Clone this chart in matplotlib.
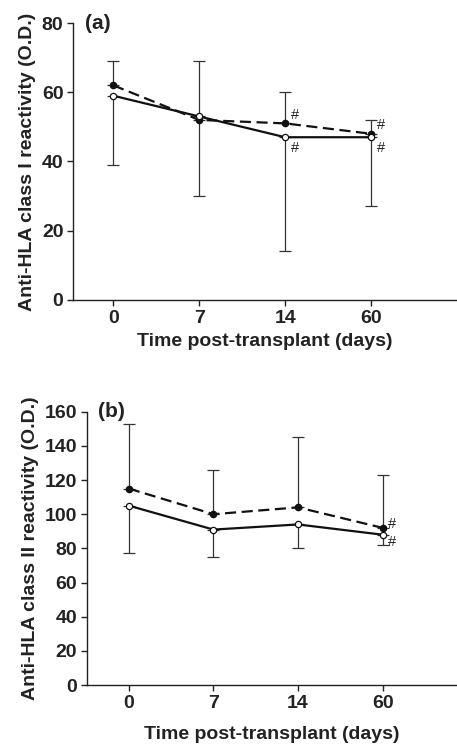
import matplotlib
matplotlib.use("Agg")
import matplotlib.pyplot as plt

plt.rcParams['font.family'] = ['Liberation Sans', 'DejaVu Sans']

days = ["0", "7", "14", "60"]

# Panel (a): class I
a_filled = [62, 52, 51, 48]
a_filled_upper = [69, 69, 60, 52]
a_open = [59, 53, 47, 47]
a_open_lower = [39, 30, 14, 27]
a_hash_filled = [2, 3]
a_hash_open = [2, 3]

# Panel (b): class II
b_filled = [115, 100, 104, 92]
b_filled_upper = [153, 126, 145, 123]
b_open = [105, 91, 94, 88]
b_open_lower = [77, 75, 80, 82]
b_hash_filled = [3]
b_hash_open = [3]

fig = plt.figure(figsize=(4.57, 7.44), dpi=100)

FS = 14

def panel(rect, filled, fup, opn, olow, hf, ho, ylim, yticks, ylabel, tag, xlim, hoff, xpad):
    ax = fig.add_axes(rect)
    x = list(range(len(days)))
    ax.errorbar(x, filled, yerr=[[0]*len(filled), [u - f for u, f in zip(fup, filled)]],
                fmt='none', ecolor='#333333', elinewidth=0.9, capsize=4, capthick=0.9, zorder=2)
    ax.errorbar(x, opn, yerr=[[o - l for o, l in zip(opn, olow)], [0]*len(opn)],
                fmt='none', ecolor='#333333', elinewidth=0.9, capsize=4, capthick=0.9, zorder=2)
    ax.plot(x, filled, color='#111111', lw=1.6, ls=(0, (5, 2.5)), marker='o', ms=4.5,
            mfc='#111111', mec='#111111', zorder=3)
    ax.plot(x, opn, color='#111111', lw=1.6, ls='-', marker='o', ms=4.5,
            mfc='white', mec='#111111', mew=0.9, zorder=4)
    for i in hf:
        ax.annotate('#', (x[i], filled[i]), xytext=(7, hoff[0]), textcoords='offset points',
                    ha='center', va='center', fontsize=10.5, color='#222222')
    for i in ho:
        ax.annotate('#', (x[i], opn[i]), xytext=(7, hoff[1]), textcoords='offset points',
                    ha='center', va='center', fontsize=10.5, color='#222222')
    ax.set_xlim(*xlim)
    ax.set_ylim(*ylim)
    ax.set_yticks(yticks)
    ax.set_xticks(x)
    ax.set_xticklabels(days)
    for s in ['top', 'right']:
        ax.spines[s].set_visible(False)
    for s in ['left', 'bottom']:
        ax.spines[s].set_linewidth(1.0)
        ax.spines[s].set_color('#222222')
    ax.tick_params(axis='both', direction='out', length=4, width=1.0, labelsize=FS,
                   colors='#222222', pad=3)
    for lab in ax.get_xticklabels() + ax.get_yticklabels():
        lab.set_fontweight('bold')
    ax.set_ylabel(ylabel, fontsize=FS, fontweight='bold', color='#222222', labelpad=4)
    ax.set_xlabel('Time post-transplant (days)', fontsize=FS, fontweight='bold',
                  color='#222222', labelpad=xpad)
    ax.text(0.03, 1.0, tag, transform=ax.transAxes, fontsize=FS + 1, fontweight='bold',
            va='center', ha='left', color='#222222')
    return ax

panel([0.160, 0.597, 0.840, 0.372], a_filled, a_filled_upper, a_open, a_open_lower,
      a_hash_filled, a_hash_open, (0, 80), [0, 20, 40, 60, 80],
      'Anti-HLA class I reactivity (O.D.)', '(a)', (-0.467, 4.0), (6, -8), 5)
panel([0.190, 0.0793, 0.810, 0.3673], b_filled, b_filled_upper, b_open, b_open_lower,
      b_hash_filled, b_hash_open, (0, 160), list(range(0, 161, 20)),
      'Anti-HLA class II reactivity (O.D.)', '(b)', (-0.497, 3.88), (3, -5), 10)

fig.savefig('out.png', dpi=100)
